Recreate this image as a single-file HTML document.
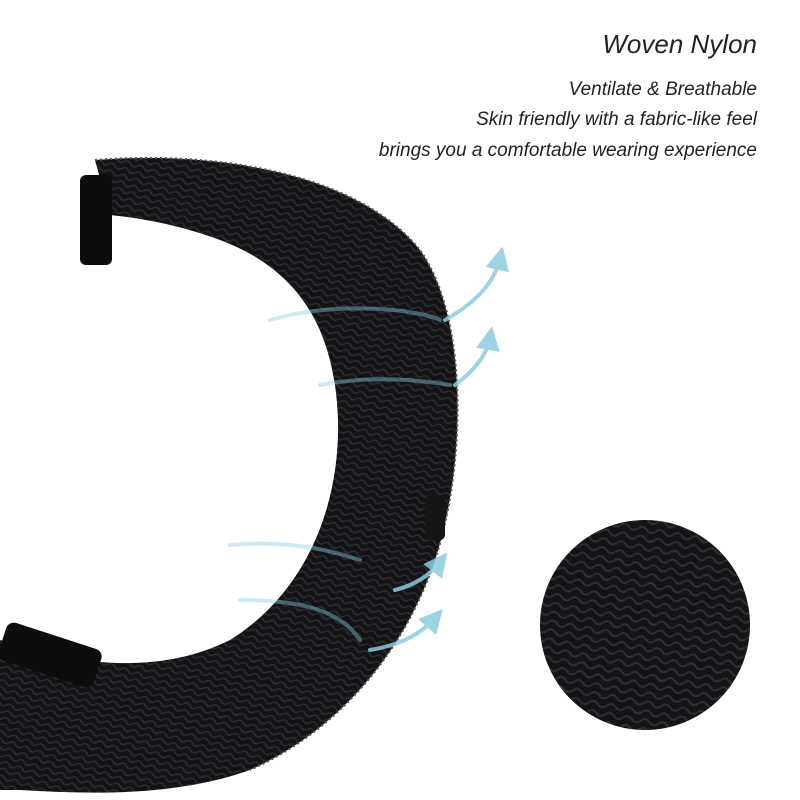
<!DOCTYPE html>
<html><head><meta charset="utf-8"><style>
html,body{margin:0;padding:0;background:#fff;}
#c{position:relative;width:800px;height:800px;overflow:hidden;background:#fff;}
.t{position:absolute;right:43px;font-family:"Liberation Sans",sans-serif;font-style:italic;color:#222;white-space:nowrap;}
</style></head><body><div id="c">
<svg width="800" height="800" style="position:absolute;left:0;top:0">
<defs>
<pattern id="wv" width="14" height="7" patternUnits="userSpaceOnUse" patternTransform="rotate(18)">
<rect width="14" height="7" fill="#131315"/>
<path d="M0 3.5 Q3.5 0 7 3.5 T14 3.5" stroke="#2c2c30" stroke-width="1.6" fill="none"/>
</pattern>
<pattern id="wv2" width="18" height="9" patternUnits="userSpaceOnUse" patternTransform="rotate(10)">
<rect width="18" height="9" fill="#141416"/>
<path d="M0 4.5 Q4.5 0 9 4.5 T18 4.5" stroke="#303034" stroke-width="2" fill="none"/>
</pattern>
<marker id="ah" markerWidth="6" markerHeight="6" refX="3" refY="3" orient="auto"><path d="M0,0 L6,3 L0,6 Z" fill="#8ccde0"/></marker>
</defs>
<path d="M95 160 C220 150 360 175 420 250 C470 320 465 470 435 560 C405 650 340 730 250 770 C180 795 100 795 20 790 L0 790 L0 640 C60 660 150 680 230 640 C310 590 340 500 338 420 C335 330 300 270 220 240 C180 225 140 218 110 215 Z" fill="url(#wv)"/>
<path d="M95 160 C220 150 360 175 420 250 C470 320 465 470 435 560 C405 650 340 730 250 770" fill="none" stroke="#555" stroke-width="2" stroke-dasharray="2 3"/>
<rect x="80" y="175" width="32" height="90" rx="6" fill="#0d0d0d"/>
<rect x="0" y="635" width="100" height="40" rx="8" fill="#0d0d0d" transform="rotate(18 50 655)"/>
<rect x="425" y="495" width="20" height="45" rx="5" fill="#151515"/>
<circle cx="645" cy="625" r="105" fill="url(#wv2)"/>
<g fill="none" stroke="#8ccde0" stroke-width="4" stroke-linecap="round" opacity="0.85">
<path d="M270 320 C340 300 420 310 440 320" opacity="0.5"/>
<path d="M445 320 C480 300 495 280 500 258" marker-end="url(#ah)"/>
<path d="M320 385 C370 375 420 380 450 385" opacity="0.5"/>
<path d="M455 385 C475 370 487 355 490 338" marker-end="url(#ah)"/>
<path d="M230 545 C290 540 330 550 360 560" opacity="0.5"/>
<path d="M395 590 C415 585 430 575 440 562" marker-end="url(#ah)"/>
<path d="M240 600 C300 600 340 610 360 640" opacity="0.5"/>
<path d="M370 650 C400 645 420 635 435 618" marker-end="url(#ah)"/>
</g>
</svg>
<div class="t" style="top:29px;font-size:26px;">Woven Nylon</div>
<div class="t" style="top:79px;font-size:19px;">Ventilate &amp; Breathable</div>
<div class="t" style="top:109px;font-size:19px;">Skin friendly with a fabric-like feel</div>
<div class="t" style="top:140px;font-size:19px;">brings you a comfortable wearing experience</div>
</div></body></html>
